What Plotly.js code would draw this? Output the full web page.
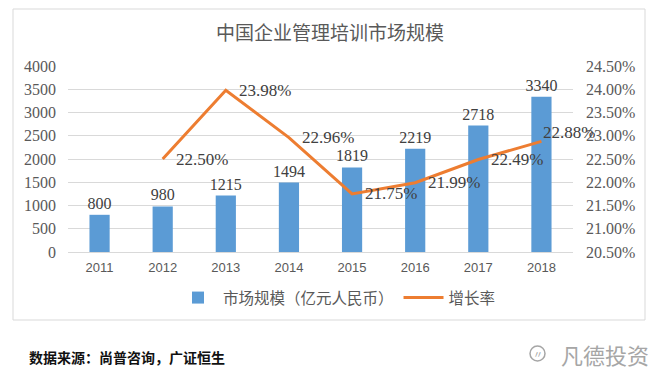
<!DOCTYPE html>
<html>
<head>
<meta charset="utf-8">
<script src="https://cdn.plot.ly/plotly-3.0.1.min.js"></script>
<style>html,body{margin:0;padding:0;background:#fff;}#chart{width:660px;height:373px;}</style>
</head>
<body>
<div id="chart"></div>
<script>
const years = ['2011','2012','2013','2014','2015','2016','2017','2018'];
const marketSize = [800, 980, 1215, 1494, 1819, 2219, 2718, 3340];
const growthRate = [null, 22.50, 23.98, 22.96, 21.75, 21.99, 22.49, 22.88];
const sizeName = '市场规模（亿元人民币）';
const rateName = '增长率';
const titleText = '中国企业管理培训市场规模';
const sourceText = '数据来源：尚普咨询，广证恒生';
const brandText = '凡德投资';

const serif = 'Liberation Serif, Times New Roman, serif';
const cjk = 'Noto Sans CJK SC, sans-serif';

const traces = [
  {
    type: 'bar', name: sizeName, x: years, y: marketSize,
    marker: {color: '#5B9BD5'},
    text: marketSize.map(String), textposition: 'outside', cliponaxis: false,
    constraintext: 'none',
    textfont: {family: serif, size: 16, color: '#404040'},
    hoverinfo: 'none'
  },
  {
    type: 'scatter', mode: 'lines', name: rateName, x: years, y: growthRate,
    yaxis: 'y2',
    line: {color: '#ED7D31', width: 3},
    cliponaxis: false, connectgaps: false, hoverinfo: 'none'
  }
];

const px = (p) => (p - 68) / 505;
const py = (p) => (252 - p) / 186;

const rateLabels = [];
growthRate.forEach((v, i) => {
  if (v === null) return;
  const last = i === growthRate.length - 1;
  rateLabels.push({
    text: v.toFixed(2) + '%', xref: 'x', yref: 'y2', x: i, y: v,
    xanchor: 'left', yanchor: 'middle', xshift: last ? 0 : 11, yshift: last ? 9 : 0,
    showarrow: false, font: {family: serif, size: 17, color: '#404040'}
  });
});

const layout = {
  width: 660, height: 373,
  margin: {l: 68, r: 87, t: 66, b: 121},
  paper_bgcolor: '#ffffff', plot_bgcolor: 'rgba(0,0,0,0)',
  showlegend: true,
  bargap: 0.68,
  title: {
    text: titleText, x: 0.5, xanchor: 'center', y: 1 - 33/373, yanchor: 'middle',
    font: {family: cjk, size: 19, color: '#595959'}
  },
  xaxis: {
    type: 'category', showgrid: false, zeroline: false, showline: false,
    range: [-0.5, years.length - 0.5], autorange: false,
    ticks: '', tickfont: {family: 'Liberation Sans, Arial, sans-serif', size: 13, color: '#595959'},
    ticklabelstandoff: 6
  },
  yaxis: {
    range: [0, 4000], dtick: 500, showgrid: true, gridcolor: '#D9D9D9', gridwidth: 1,
    zeroline: true, zerolinecolor: '#D9D9D9', showline: false, ticks: '',
    tickfont: {family: serif, size: 16, color: '#595959'},
    ticklabelstandoff: 11, fixedrange: true
  },
  yaxis2: {
    overlaying: 'y', side: 'right', range: [20.5, 24.5], dtick: 0.5,
    tickformat: '.2f', ticksuffix: '%', showgrid: false, zeroline: false, showline: false,
    ticks: '', tickfont: {family: serif, size: 16, color: '#595959'},
    ticklabelstandoff: 12
  },
  legend: {
    orientation: 'h', x: px(173), xanchor: 'left', y: py(298), yanchor: 'middle',
    font: {family: cjk, size: 15.5, color: '#595959'}, bgcolor: 'rgba(0,0,0,0)',
    traceorder: 'normal', itemwidth: 40
  },
  shapes: [
    {type: 'rect', xref: 'paper', yref: 'paper', x0: px(13), x1: px(645), y0: py(320), y1: py(9),
     line: {color: '#D9D9D9', width: 1}, fillcolor: 'rgba(0,0,0,0)', layer: 'below'},
    {type: 'circle', xref: 'paper', yref: 'paper', x0: px(530), x1: px(545), y0: py(361), y1: py(346),
     line: {color: '#A6A6A6', width: 1.5}, fillcolor: 'rgba(0,0,0,0)'}
  ],
  annotations: rateLabels.concat([
    {text: sourceText, xref: 'paper', yref: 'paper', x: px(27), y: py(357), xanchor: 'left', yanchor: 'middle',
     showarrow: false, font: {family: cjk, size: 14, color: '#111111', weight: 'bold'}},
    {text: brandText, xref: 'paper', yref: 'paper', x: px(651), y: py(354), xanchor: 'right', yanchor: 'middle',
     showarrow: false, font: {family: cjk, size: 22, color: '#A6A6A6'}},
    {text: '〃', xref: 'paper', yref: 'paper', x: px(537.5), y: py(353.5), xanchor: 'center', yanchor: 'middle',
     showarrow: false, font: {family: cjk, size: 10, color: '#A6A6A6'}}
  ])
};

Plotly.newPlot('chart', traces, layout, {displayModeBar: false, staticPlot: true});
</script>
</body>
</html>
